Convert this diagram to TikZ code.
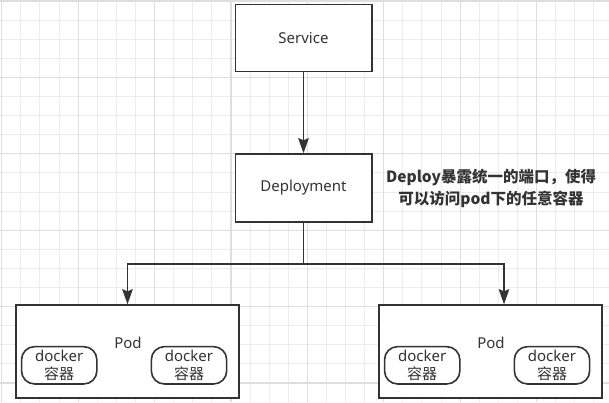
\documentclass[tikz,border=0pt]{standalone}
\usepackage{fontspec}
\setmainfont{Noto Sans}
\newfontfamily\cjk{Noto Sans CJK SC}
\usetikzlibrary{positioning, calc, arrows.meta}

\definecolor{inkgray}{HTML}{333333}
\definecolor{gridminor}{HTML}{ECECEC}
\definecolor{gridmajor}{HTML}{DEDEDE}

\tikzset{
  box/.style={draw=inkgray, line width=1.6pt, fill=white, inner sep=0pt,
    minimum width=136.4pt, minimum height=67pt, text=inkgray,
    font=\fontsize{15}{18}\selectfont},
  podbox/.style={box, minimum width=223pt, minimum height=92.7pt},
  pill/.style={draw=inkgray, line width=1.6pt, rounded corners=13pt, inner sep=0pt,
    minimum width=75.3pt, minimum height=37.3pt, align=center, text=inkgray,
    font=\fontsize{15}{18.5}\selectfont},
  link/.style={draw=inkgray, line width=1.6pt,
    -{Stealth[length=15pt, width=10.5pt, inset=2pt]}},
}

\begin{document}
\begin{tikzpicture}[x=1pt, y=-1pt]
        \useasboundingbox (0,0) rectangle (609,402);

        % ==========================================
        % BACKGROUND: Grid
        % ==========================================
        \foreach \i in {0,...,31}
            \draw[gridminor, line width=1pt] ({1.7+19.1*\i},0) -- ({1.7+19.1*\i},402);
        \foreach \i in {0,...,20}
            \draw[gridminor, line width=1pt] (0,{1+19.1*\i}) -- (609,{1+19.1*\i});
        \foreach \i in {0,...,7}
            \draw[gridmajor, line width=1.2pt] ({1.7+76.4*\i},0) -- ({1.7+76.4*\i},402);
        \foreach \i in {0,...,5}
            \draw[gridmajor, line width=1.2pt] (0,{1+76.4*\i}) -- (609,{1+76.4*\i});

        % ==========================================
        % TOP: Service and Deployment
        % ==========================================
        \node[box] (service) at (303.5, 38) {Service};
        \node[box, minimum height=68pt] (deploy) at (303.5, 188) {Deployment};

        % Note beside the Deployment
        \node[right=10pt of deploy, align=center, text=inkgray,
              font=\cjk\bfseries\fontsize{15.5}{22}\selectfont] (note)
            {Deploy暴露统一的端口，使得\\可以访问pod下的任意容器};

        % ==========================================
        % BOTTOM: Pods with docker containers
        % ==========================================
        \foreach \name/\x in {podL/127.5, podR/490.5} {
            \node[podbox] (\name) at (\x, 351.4) {};
            \node[text=inkgray, font=\fontsize{15}{18}\selectfont] (\name-label)
                at ($(\name)+(0.5,-8.4)$) {Pod};
            \node[pill] (\name-c1) at ($(\name)+(-68.3,13.9)$) {docker\\{\cjk 容器}};
            \node[pill] (\name-c2) at ($(\name)+(61.5,13.9)$) {docker\\{\cjk 容器}};
        }

        % ==========================================
        % CONNECTORS
        % ==========================================
        \draw[link] (service) -- (deploy);
        \coordinate (split) at ($(deploy.south)+(0,41)$);
        \coordinate (podRin) at ($(podR.north)+(13.5,0)$);
        \draw[inkgray, line width=1.6pt] (deploy.south) -- (split);
        \draw[link] (split) -| (podL.north);
        \draw[link] (split) -| (podRin);

\end{tikzpicture}
\end{document}
